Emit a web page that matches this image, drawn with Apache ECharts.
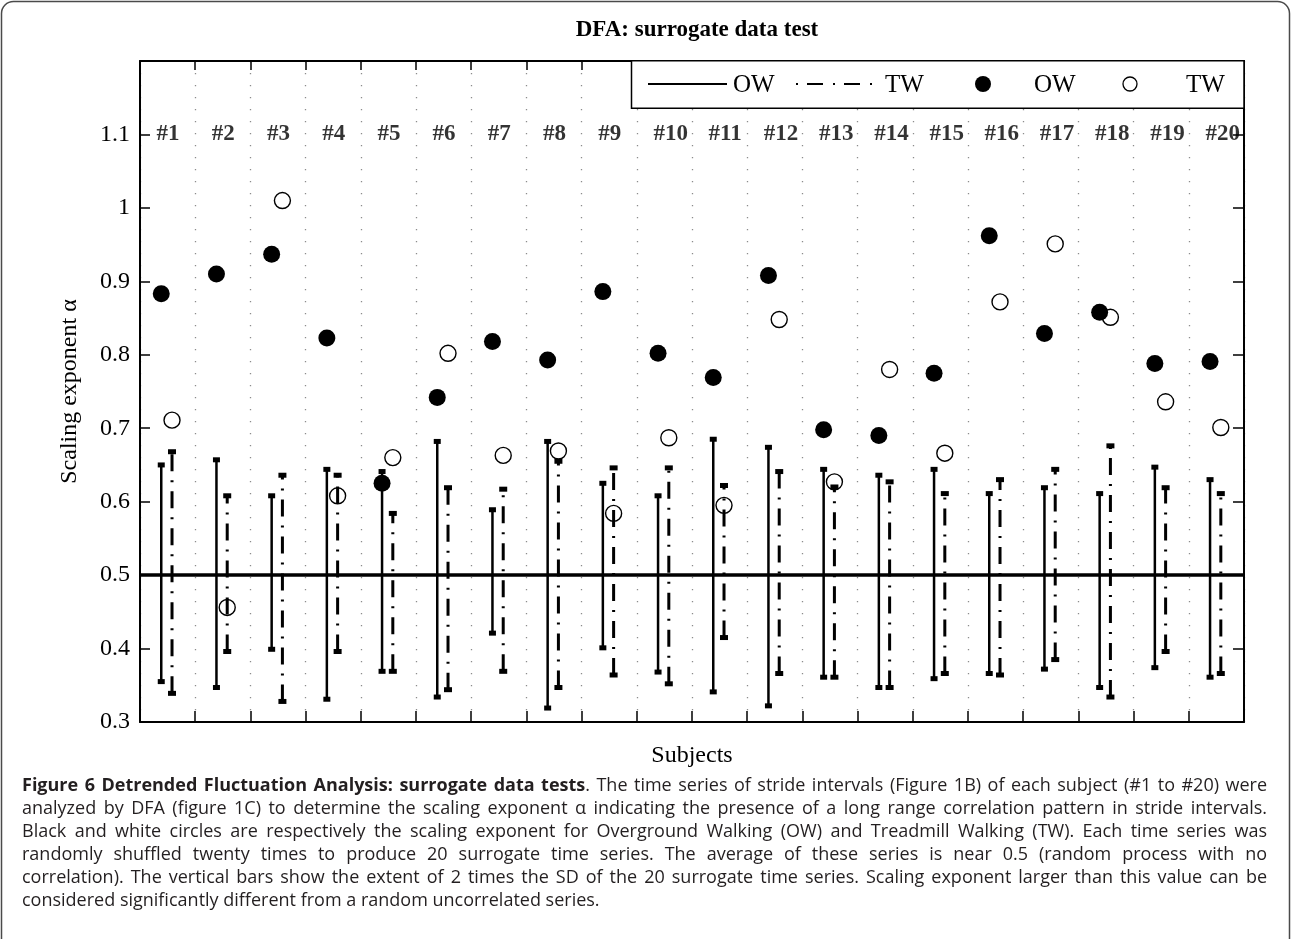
<!DOCTYPE html>
<html><head><meta charset="utf-8">
<script src="https://cdn.jsdelivr.net/npm/echarts@6/dist/echarts.min.js"></script>
<style>html,body{margin:0;padding:0;background:#fff}#c{width:1292px;height:939px}</style>
</head><body><div id="c"></div>
<script>
// ---------- data ----------
const subjects = ['#1','#2','#3','#4','#5','#6','#7','#8','#9','#10','#11','#12','#13','#14','#15','#16','#17','#18','#19','#20'];
const owAlpha = [0.883,0.910,0.937,0.823,0.625,0.742,0.818,0.793,0.886,0.802,0.769,0.908,0.698,0.690,0.775,0.962,0.829,0.858,0.788,0.791];
const twAlpha = [0.711,0.456,1.010,0.608,0.660,0.802,0.663,0.669,0.584,0.687,0.595,0.848,0.627,0.780,0.666,0.872,0.951,0.851,0.736,0.701];
const owSurLow  = [0.355,0.347,0.399,0.331,0.369,0.334,0.421,0.319,0.401,0.368,0.341,0.322,0.361,0.347,0.359,0.366,0.372,0.347,0.374,0.361];
const owSurHigh = [0.650,0.657,0.608,0.644,0.641,0.682,0.589,0.682,0.625,0.608,0.685,0.674,0.644,0.636,0.644,0.611,0.619,0.611,0.647,0.630];
const twSurLow  = [0.339,0.396,0.328,0.396,0.369,0.344,0.369,0.347,0.364,0.352,0.415,0.366,0.361,0.347,0.366,0.364,0.385,0.334,0.396,0.366];
const twSurHigh = [0.668,0.608,0.636,0.636,0.584,0.619,0.617,0.655,0.646,0.646,0.622,0.641,0.620,0.627,0.611,0.630,0.644,0.676,0.619,0.611];
const yTickLabels = ['0.3','0.4','0.5','0.6','0.7','0.8','0.9','1','1.1'];
const randomLevel = 0.5;
const labelLevel = 1.1;
const captionLines = [
  '**Figure 6 Detrended Fluctuation Analysis: surrogate data tests**. The time series of stride intervals (Figure 1B) of each subject (#1 to #20) were',
  'analyzed by DFA (figure 1C) to determine the scaling exponent α indicating the presence of a long range correlation pattern in stride intervals.',
  'Black and white circles are respectively the scaling exponent for Overground Walking (OW) and Treadmill Walking (TW). Each time series was',
  'randomly shuffled twenty times to produce 20 surrogate time series. The average of these series is near 0.5 (random process with no',
  'correlation). The vertical bars show the extent of 2 times the SD of the 20 surrogate time series. Scaling exponent larger than this value can be',
  'considered significantly different from a random uncorrelated series.'
];

// ---------- layout constants ----------
const OW_OFF = -0.115, TW_OFF = 0.08;
const SERIF = 'Liberation Serif';
const SANS = 'Open Sans';

const owBars = subjects.map((s,i)=>[i+0.5+OW_OFF, owSurLow[i], owSurHigh[i]]);
const twBars = subjects.map((s,i)=>[i+0.5+TW_OFF, twSurLow[i], twSurHigh[i]]);
const owPts = subjects.map((s,i)=>[i+0.5+OW_OFF, owAlpha[i]]);
const twPts = subjects.map((s,i)=>[i+0.5+TW_OFF, twAlpha[i]]);
const labelPts = subjects.map((s,i)=>[i+0.5, labelLevel]);

function barRenderer(dash, lw, capW, capH){
  return function(params, api){
    const x = api.value(0);
    const p1 = api.coord([x, api.value(1)]);
    const p2 = api.coord([x, api.value(2)]);
    return {type:'group', children:[
      {type:'line', shape:{x1:p1[0],y1:p1[1],x2:p2[0],y2:p2[1]}, style:{stroke:'#000',lineWidth:lw,lineDash:dash}},
      {type:'rect', shape:{x:p1[0]-capW/2,y:p1[1]-capH/2,width:capW,height:capH}, style:{fill:'#000'}},
      {type:'rect', shape:{x:p2[0]-capW/2,y:p2[1]-capH/2,width:capW,height:capH}, style:{fill:'#000'}}
    ]};
  };
}

// ---------- caption (justified) ----------
const capLeft = 22, capRight = 1267, capTop = 786, capLead = 23;
const lastLineWidth = 576;
const ctx = document.createElement('canvas').getContext('2d');
function fontStr(b, sz){ return (b?'bold ':'normal ') + sz + 'px "' + SANS + '"'; }
ctx.font = fontStr(false, 20);
let capSize = 20 * lastLineWidth / ctx.measureText(captionLines[captionLines.length-1]).width;
capSize = Math.round(capSize*4)/4;
const captionEls = [];
captionLines.forEach((line, li)=>{
  let bold = false;
  const words = line.split(' ').map(w=>{
    const parts = w.split('**');
    const segs = [];
    parts.forEach((p,k)=>{ if(k>0) bold = !bold; if(p.length) segs.push({t:p,b:bold}); });
    let wd = 0;
    segs.forEach(sg=>{ ctx.font = fontStr(sg.b, capSize); sg.w = ctx.measureText(sg.t).width; wd += sg.w; });
    return {segs, w:wd};
  });
  const total = words.reduce((a,w)=>a+w.w,0);
  ctx.font = fontStr(false, capSize);
  const sp = ctx.measureText(' ').width;
  const justify = li < captionLines.length-1;
  const gap = justify ? Math.max(2, (capRight-capLeft-total)/(words.length-1)) : sp;
  let x = capLeft;
  const y = capTop + li*capLead;
  words.forEach(w=>{
    let xx = x;
    w.segs.forEach(sg=>{
      captionEls.push({type:'text', x:xx, y:y, z:100, style:{text:sg.t, fontFamily:SANS, fontSize:capSize, fontWeight:sg.b?'bold':'normal', fill:'#231f20', verticalAlign:'middle', align:'left'}});
      xx += sg.w;
    });
    x += w.w + gap;
  });
});

// ---------- legend graphic ----------
const LG = {x:631.5, y:60.7, w:612.5, h:47.6, cy:85};
const legendEls = [
  {type:'rect', z:100, shape:{x:LG.x,y:LG.y,width:LG.w,height:LG.h}, style:{fill:'#fff',stroke:'#000',lineWidth:1.5}},
  {type:'line', z:101, shape:{x1:648,y1:LG.cy-1,x2:727,y2:LG.cy-1}, style:{stroke:'#000',lineWidth:2}},
  {type:'text', z:101, x:733, y:LG.cy, style:{text:'OW',fontFamily:SERIF,fontSize:25,fill:'#000',verticalAlign:'middle'}},
  {type:'line', z:101, shape:{x1:796,y1:LG.cy-1,x2:876,y2:LG.cy-1}, style:{stroke:'#000',lineWidth:2,lineDash:[2,9,16,10]}},
  {type:'text', z:101, x:885, y:LG.cy, style:{text:'TW',fontFamily:SERIF,fontSize:25,fill:'#000',verticalAlign:'middle'}},
  {type:'circle', z:101, shape:{cx:983,cy:LG.cy-1,r:8}, style:{fill:'#000'}},
  {type:'text', z:101, x:1034, y:LG.cy, style:{text:'OW',fontFamily:SERIF,fontSize:25,fill:'#000',verticalAlign:'middle'}},
  {type:'circle', z:101, shape:{cx:1130,cy:LG.cy-1,r:7}, style:{fill:'none',stroke:'#000',lineWidth:1.3}},
  {type:'text', z:101, x:1186, y:LG.cy, style:{text:'TW',fontFamily:SERIF,fontSize:25,fill:'#000',verticalAlign:'middle'}}
];

const frame = {type:'rect', z:100, shape:{x:1.5,y:1.5,width:1288,height:980,r:12}, style:{fill:'none',stroke:'#4a4a4a',lineWidth:1.5}};

const axisLineStyle = {color:'#000', width:2};
const chart = echarts.init(document.getElementById('c'), null, {renderer:'canvas'});
chart.setOption({
  animation:false,
  backgroundColor:'#fff',
  title:{text:'DFA: surrogate data test', left:692, top:14, textAlign:'center',
    textStyle:{fontFamily:SERIF,fontSize:23,fontWeight:'bold',color:'#000'}},
  grid:{left:140,right:48,top:61,bottom:217},
  xAxis:[
    {type:'value',min:0,max:20,interval:1,position:'bottom',
      axisLine:{show:true,onZero:false,lineStyle:axisLineStyle},
      axisTick:{show:true,inside:true,length:11,lineStyle:{color:'#000',width:1.5}},
      axisLabel:{show:false},
      splitLine:{show:true,lineStyle:{color:'#8c8c8c',width:1.3,type:[1.3,10.7]}},
      name:'Subjects',nameLocation:'middle',nameGap:22,
      nameTextStyle:{fontFamily:SERIF,fontSize:24,color:'#000'}},
    {type:'value',min:0,max:20,interval:1,position:'top',
      axisLine:{show:true,onZero:false,lineStyle:axisLineStyle},
      axisTick:{show:true,inside:true,length:9,lineStyle:{color:'#000',width:1.5}},
      axisLabel:{show:false},splitLine:{show:false}}
  ],
  yAxis:[
    {type:'value',min:0.3,max:1.2,interval:0.1,position:'left',
      axisLine:{show:true,onZero:false,lineStyle:axisLineStyle},
      axisTick:{show:true,inside:true,length:10,lineStyle:{color:'#000',width:1.5}},
      axisLabel:{show:true,margin:10,fontFamily:SERIF,fontSize:24,color:'#000',
        formatter:(v,idx)=> (yTickLabels[idx]!==undefined ? yTickLabels[idx] : '')},
      splitLine:{show:false},
      name:'Scaling exponent α',nameLocation:'middle',nameRotate:90,nameGap:58,
      nameTextStyle:{fontFamily:SERIF,fontSize:24,color:'#000'}},
    {type:'value',min:0.3,max:1.2,interval:0.1,position:'right',
      axisLine:{show:true,onZero:false,lineStyle:axisLineStyle},
      axisTick:{show:true,inside:true,length:11,lineStyle:{color:'#000',width:1.5}},
      axisLabel:{show:false},splitLine:{show:false}}
  ],
  series:[
    {type:'line',name:'random',data:[[0,randomLevel],[20,randomLevel]],symbol:'none',
      lineStyle:{color:'#000',width:3.5},silent:true,z:3},
    {type:'custom',name:'OW surrogate',renderItem:barRenderer(null,2.5,7,5),data:owBars,
      encode:{x:0,y:[1,2]},z:4,silent:true},
    {type:'custom',name:'TW surrogate',renderItem:barRenderer([17,9,2,9],3,8,5),data:twBars,
      encode:{x:0,y:[1,2]},z:4,silent:true},
    {type:'scatter',name:'OW',data:owPts,symbol:'circle',symbolSize:17,
      itemStyle:{color:'#000',opacity:1},z:5,silent:true},
    {type:'scatter',name:'TW',data:twPts,symbol:'circle',symbolSize:16,
      itemStyle:{color:'rgba(0,0,0,0)',borderColor:'#000',borderWidth:1.4,opacity:1},z:5,silent:true},
    {type:'scatter',name:'labels',data:labelPts,symbolSize:0,silent:true,z:6,
      label:{show:true,position:[-11,0],align:'left',verticalAlign:'middle',
        formatter:(p)=>subjects[p.dataIndex],
        fontFamily:SERIF,fontSize:23,fontWeight:'bold',color:'#000'}}
  ],
  graphic:[frame].concat(legendEls, captionEls)
});
</script></body></html>
